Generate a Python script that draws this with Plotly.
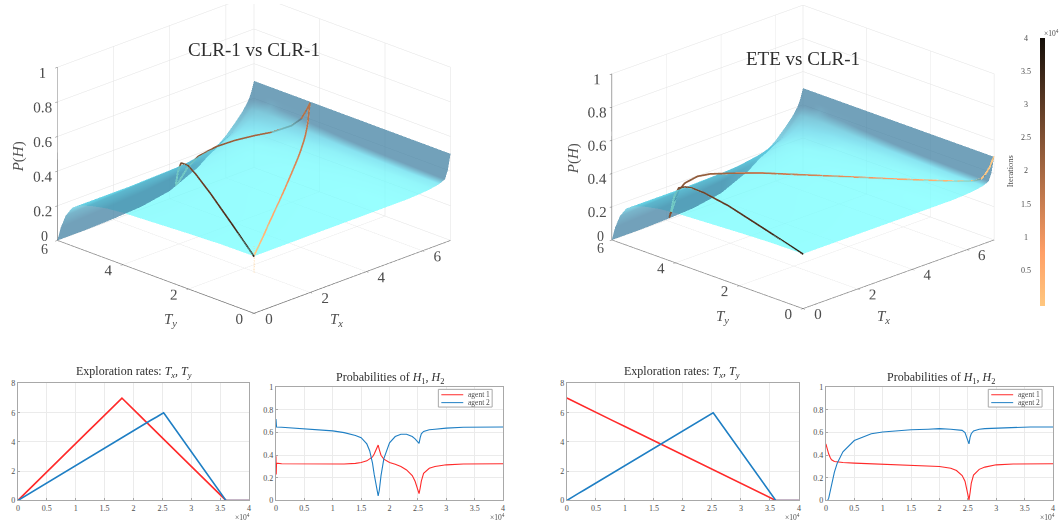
import numpy as np
import plotly.graph_objects as go

W, H = 1061, 531
# ---------- surface ----------
grid_Tx = [0, 1, 2, 3, 4, 5, 5.5, 6, 6.3, 6.6, 6.8, 6.9, 7]
grid_Ty = [0, 1, 2, 3, 4, 4.5, 5, 5.3, 5.55, 5.75, 5.9, 6]
grid_P = [
 [.33,.33,.33,.33,.33,.33,.33,.335,.34,.35,.365,.41,.50],
 [.328,.328,.328,.328,.328,.33,.33,.335,.34,.35,.37,.415,.50],
 [.32,.32,.322,.324,.326,.328,.33,.335,.34,.355,.375,.42,.50],
 [.31,.312,.315,.318,.32,.325,.328,.335,.345,.36,.385,.43,.50],
 [.30,.30,.305,.31,.315,.32,.325,.335,.345,.37,.40,.44,.50],
 [.29,.29,.295,.30,.305,.315,.32,.33,.35,.375,.41,.445,.50],
 [.27,.275,.28,.285,.29,.30,.31,.325,.345,.38,.415,.45,.50],
 [.25,.25,.255,.26,.27,.285,.30,.32,.345,.38,.42,.45,.50],
 [.22,.22,.22,.225,.23,.26,.28,.31,.34,.38,.42,.455,.50],
 [.16,.17,.18,.19,.20,.22,.25,.285,.33,.375,.42,.455,.50],
 [.08,.09,.10,.11,.13,.165,.20,.25,.30,.36,.41,.45,.50],
 [0,0,.005,.015,.045,.12,.18,.245,.295,.35,.40,.44,.50],
]
# ---------- CLR-1 vs CLR-1 ----------
iter_L = [0,40,100,1000,3000,5000,8000,10000,12000,14000,15000,16000,16500,17000,17300,17600,17800,18000,18200,18500,19000,19500,20000,21000,22000,23000,24000,24500,24800,25000,25200,25400,25600,26000,26500,27000,28000,30000,33000,36000,40000]
Tx_L = [0,.016,.04,.39,1.17,1.94,3.11,3.89,4.67,5.44,5.83,6.22,6.42,6.61,6.73,6.84,6.92,7,6.92,6.81,6.61,6.42,6.22,5.83,5.44,5.06,4.67,4.47,4.36,4.28,4.2,4.12,4.04,3.89,3.69,3.5,3.11,2.33,1.17,0,0]
Ty_L = [0,.01,.02,.24,.71,1.19,1.9,2.38,2.86,3.33,3.57,3.81,3.93,4.05,4.12,4.19,4.24,4.29,4.33,4.4,4.52,4.64,4.76,5,5.24,5.48,5.71,5.83,5.9,5.95,6,5.89,5.78,5.56,5.28,5,4.44,3.33,1.67,0,0]
P1_L = [.39,.23,.33,.325,.325,.322,.32,.32,.322,.328,.335,.35,.365,.385,.41,.45,.475,.49,.45,.40,.365,.35,.335,.32,.30,.27,.22,.17,.12,.085,.06,.11,.17,.24,.265,.285,.30,.315,.322,.325,.325]
P2_L = [.72,.66,.65,.648,.64,.635,.625,.615,.60,.575,.555,.50,.44,.33,.23,.13,.07,.04,.09,.22,.37,.45,.51,.565,.585,.585,.565,.545,.525,.515,.505,.555,.59,.61,.62,.625,.63,.64,.648,.65,.65]
# ---------- ETE vs CLR-1 ----------
iter_R = [0,150,300,500,800,1000,1500,2000,3000,5000,8000,10000,15000,18000,20000,22000,23000,24000,24500,24800,25000,25200,25400,25600,26000,26500,27000,28000,30000,33000,36000,40000]
Tx_R = [7,6.97,6.94,6.9,6.84,6.81,6.71,6.61,6.42,6.03,5.44,5.06,4.08,3.5,3.11,2.72,2.53,2.33,2.24,2.18,2.14,2.1,2.06,2.02,1.94,1.85,1.75,1.56,1.17,.58,0,0]
Ty_R = [0,.04,.07,.12,.19,.24,.36,.48,.71,1.19,1.9,2.38,3.57,4.29,4.76,5.24,5.48,5.71,5.83,5.9,5.95,6,5.89,5.78,5.56,5.28,5,4.44,3.33,1.67,0,0]
P1_R = [.50,.47,.44,.41,.375,.36,.345,.34,.335,.33,.325,.322,.315,.31,.30,.285,.265,.22,.17,.10,.05,.005,.07,.15,.225,.255,.275,.295,.315,.322,.325,.325]
P2_R = [0,0,0,.02,.09,.16,.25,.33,.43,.53,.59,.605,.625,.63,.635,.63,.625,.62,.60,.56,.53,.50,.56,.59,.615,.625,.63,.635,.64,.648,.65,.65]

titles_3d = ["CLR-1 vs CLR-1", "ETE vs CLR-1"]
bar_values = [0.5, 1, 1.5, 2, 2.5, 3, 3.5, 4]
bar_labels = ["0.5","1","1.5","2","2.5","3","3.5","4"]
SERIF = "Liberation Serif"
TXT = "#4d4d4d"
COPPER = [[0, "rgb(255,199,127)"], [0.2, "rgb(255,159,102)"], [1, "rgb(20,14,8)"]]
SURF = [[0, "rgb(112,255,255)"], [0.3, "rgb(90,215,235)"], [1, "rgb(60,125,160)"]]

Z = np.array(grid_P)
dx = np.abs(np.gradient(Z, grid_Tx, axis=1))
dy = np.abs(np.gradient(Z, grid_Ty, axis=0))
shade = np.clip(np.maximum(dx / 0.3, dy / 0.55), 0, 1)

fig = go.Figure()

def px(x): return x / W
def py(y): return 1 - y / H

def add_scene(name, it, tx, ty, p, showbar, skip):
    fig.add_trace(go.Surface(x=grid_Tx, y=grid_Ty, z=grid_P, surfacecolor=shade, cmin=0, cmax=1,
                             colorscale=SURF, showscale=False, opacity=0.72, scene=name,
                             lighting=dict(ambient=1, diffuse=0, specular=0, roughness=1, fresnel=0)))
    line = dict(color=it[skip:], colorscale=COPPER, cmin=0, cmax=40000, width=3.5, showscale=showbar)
    if showbar:
        line["colorbar"] = dict(x=px(1042), xanchor="left", y=py(35), yanchor="top", len=268, lenmode="pixels",
                                thickness=5, thicknessmode="pixels", xpad=0, ypad=0, outlinewidth=0,
                                showticklabels=False, ticks="")
    fig.add_trace(go.Scatter3d(x=tx[skip:], y=ty[skip:], z=[v + 0.004 for v in p[skip:]], mode="lines", line=line,
                               scene=name, showlegend=False))
    if skip:
        fig.add_trace(go.Scatter3d(x=tx[:skip+1], y=ty[:skip+1], z=p[:skip+1], mode="lines", opacity=0.5,
                                   line=dict(color="rgb(255,199,127)", width=2, dash="dot"),
                                   scene=name, showlegend=False))

add_scene("scene", iter_L, Tx_L, Ty_L, P1_L, False, 2)
add_scene("scene2", iter_R, Tx_R, Ty_R, P1_R, True, 0)

def axis3(rng, vals, txt=None):
    return dict(range=rng, tickvals=vals, ticktext=txt, showbackground=False, title=dict(text=""), tickangle=0,
                gridcolor="#e2e2e2", gridwidth=1, zeroline=False, showline=True, linecolor="#6a6a6a", linewidth=1.5,
                ticks="outside", ticklen=3, tickcolor="#6a6a6a", showspikes=False,
                tickfont=dict(family=SERIF, size=13.5, color=TXT))

def scene_layout(xd, yd, a, az, cz):
    return dict(domain=dict(x=[px(xd[0]), px(xd[1])], y=[py(yd[1]), py(yd[0])]),
                xaxis=axis3([0, 7], [0, 2, 4, 6], ["0", "2", "4", "6"]),
                yaxis=axis3([0, 6], [0, 2, 4, 6], ["0", "2", "4", ""]),
                zaxis=axis3([0, 1], [0, .2, .4, .6, .8, 1], ["", "0.2", "0.4", "0.6", "0.8", "1"]),
                aspectmode="manual", aspectratio=dict(x=a, y=a, z=az),
                camera=dict(projection=dict(type="orthographic"), eye=dict(x=-1, y=-1, z=0.44),
                            center=dict(x=0, y=0, z=cz), up=dict(x=0, y=0, z=1)),
                bgcolor="rgba(0,0,0,0)")

fig.update_layout(scene=scene_layout((0, 506), (0, 345), 1.64, 1.10, -0.125),
                  scene2=scene_layout((579, 1029), (0, 345), 1.595, 1.05, -0.105))

# ---------- 2D panels ----------
def panel(i, xr, yr, ymax, dticks, series):
    ax = "" if i == 1 else str(i)
    for (xs, ys, c, nm) in series:
        fig.add_trace(go.Scatter(x=xs, y=ys, mode="lines", line=dict(color=c, width=1.1 if ymax == 1 else 1.6),
                                 name=nm, xaxis="x"+ax, yaxis="y"+ax, showlegend=False))
    common = dict(showline=True, mirror=True, linecolor="#a8a8a8", linewidth=1, gridcolor="#ebebeb", gridwidth=1,
                  zeroline=False, ticks="inside", ticklen=2, tickcolor="#a8a8a8",
                  tickfont=dict(family=SERIF, size=8, color=TXT))
    fig.update_layout({
        "xaxis"+ax: dict(domain=[px(xr[0]), px(xr[1])], anchor="y"+ax, range=[0, 40000],
                         tickvals=[5000*j for j in range(9)],
                         ticktext=["0","0.5","1","1.5","2","2.5","3","3.5","4"], **common),
        "yaxis"+ax: dict(domain=[py(yr[1]), py(yr[0])], anchor="x"+ax, range=[0, ymax], tickvals=dticks,
                         ticktext=[("%g" % v) for v in dticks], **common),
    })

RED, BLUE = "#ff2a2a", "#1f7fc4"
panel(1, (16, 248), (386, 505), 8, [0,2,4,6,8], [(iter_L, Tx_L, RED, "Tx"), (iter_L, Ty_L, BLUE, "Ty")])
panel(2, (275, 503), (390, 505), 1, [0,.2,.4,.6,.8,1], [(iter_L, P1_L, RED, "agent 1"), (iter_L, P2_L, BLUE, "agent 2")])
panel(3, (567, 800), (386, 505), 8, [0,2,4,6,8], [(iter_R, Tx_R, RED, "Tx"), (iter_R, Ty_R, BLUE, "Ty")])
panel(4, (827, 1055), (390, 505), 1, [0,.2,.4,.6,.8,1], [(iter_R, P1_R, RED, "agent 1"), (iter_R, P2_R, BLUE, "agent 2")])

def note(x, y, text, size, angle=0, color="#2e2e2e", anchor="center"):
    fig.add_annotation(x=px(x), y=py(y), xref="paper", yref="paper", text=text, showarrow=False, textangle=angle,
                       xanchor=anchor, yanchor="middle", font=dict(family=SERIF, size=size, color=color))

def legend_box(x0, y0, x1, y1):
    fig.add_shape(type="rect", xref="paper", yref="paper", x0=px(x0), x1=px(x1), y0=py(y0), y1=py(y1),
                  line=dict(color="#a8a8a8", width=1), fillcolor="white")
    for (yy, c, t) in [(y0+5.5, RED, "agent 1"), (y0+13.5, BLUE, "agent 2")]:
        fig.add_shape(type="line", xref="paper", yref="paper", x0=px(x0+3), x1=px(x0+25), y0=py(yy), y1=py(yy),
                      line=dict(color=c, width=1))
        note(x0+28, yy, t, 7.5, 0, TXT, "left")

legend_box(438, 392, 492, 410)
legend_box(990, 392, 1044, 410)

T_PAIR = "<i>T<sub>x</sub></i>, <i>T<sub>y</sub></i>"
H_PAIR = "<i>H</i><sub>1</sub>, <i>H</i><sub>2</sub>"
note(253, 46, titles_3d[0], 19)
note(804, 55, titles_3d[1], 19)
for (x, y, t, s, a) in [(16, 155, "<i>P</i>(<i>H</i>)", 15, -90), (574, 157, "<i>P</i>(<i>H</i>)", 15, -90),
                        (169, 321, "<i>T<sub>y</sub></i>", 15, 0), (336, 321, "<i>T<sub>x</sub></i>", 15, 0),
                        (723, 318, "<i>T<sub>y</sub></i>", 15, 0), (885, 318, "<i>T<sub>x</sub></i>", 15, 0),
                        (1012, 170, "Iterations", 8.5, -90)]:
    note(x, y, t, s, a, TXT)
for (x, y, t) in [(43, 237, "0"), (43, 250, "6"), (601, 236, "0"), (601, 249, "6")]:
    note(x, y, t, 14, 0, TXT)
for v, t in zip(bar_values, bar_labels):
    note(1028, 35 + (4 - v) * 67.4, t, 8, 0, TXT)
note(132, 374, "Exploration rates: " + T_PAIR, 12)
note(389, 380, "Probabilities of " + H_PAIR, 12)
note(683, 374, "Exploration rates: " + T_PAIR, 12)
note(943, 380, "Probabilities of " + H_PAIR, 12)
for (x, y) in [(241, 522), (497, 522), (793, 522), (1049, 522), (1053, 30)]:
    note(x, y, "×10<sup>4</sup>", 7.5, 0, TXT)

fig.update_layout(width=W, height=H, margin=dict(l=0, r=0, t=0, b=0), paper_bgcolor="white", plot_bgcolor="white",
                  showlegend=False, hovermode=False)

fig.write_html("out.html", config=dict(displayModeBar=False),
               post_script="document.body.style.margin='0';document.body.style.overflow='hidden';")
